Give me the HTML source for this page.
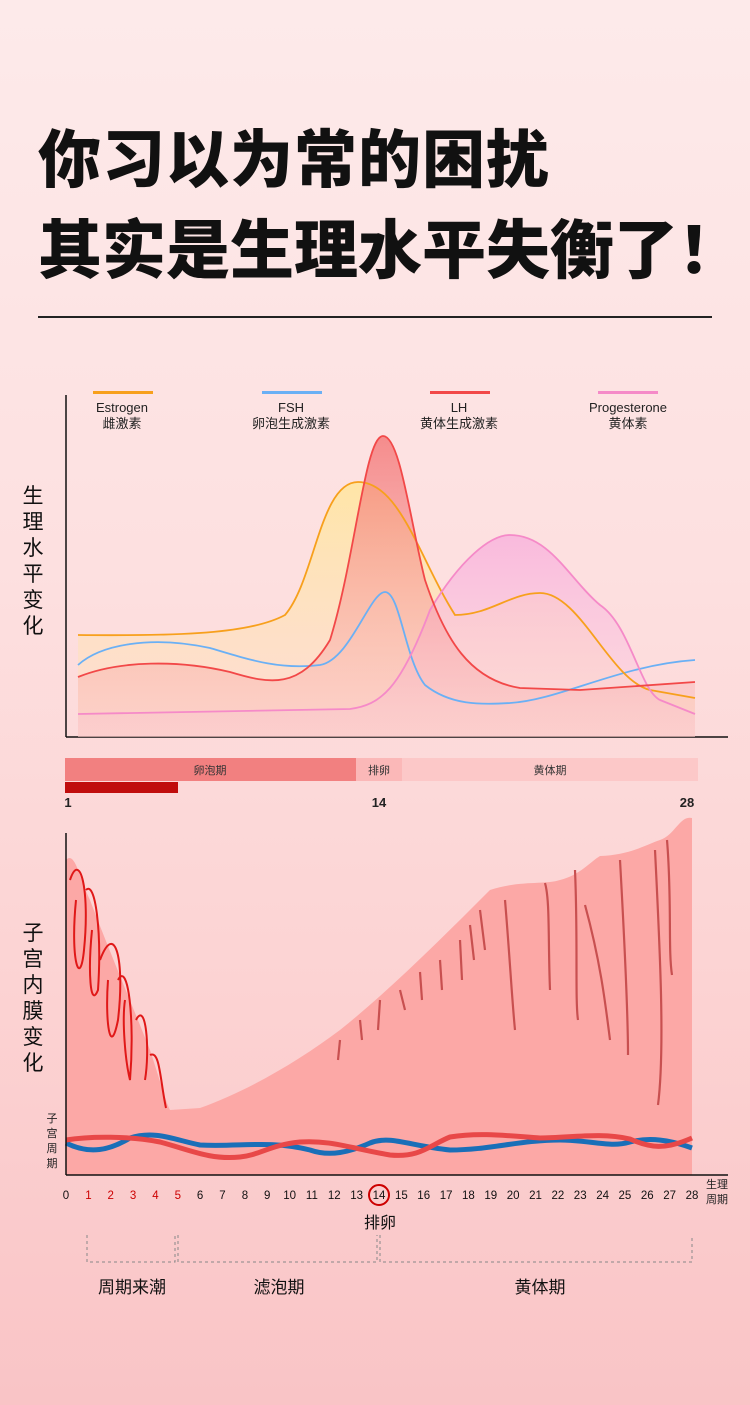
<!DOCTYPE html>
<html><head><meta charset="utf-8"><style>
html,body{margin:0;padding:0}
body{width:750px;height:1405px;overflow:hidden;background:linear-gradient(#fdeaea 0%,#fde0e0 40%,#fcd3d3 70%,#f9c4c6 100%);font-family:"Liberation Sans","Noto Sans CJK SC",sans-serif;position:relative}
.t{position:absolute;left:38px;font-weight:900;color:#111;white-space:nowrap;font-family:"Noto Sans CJK SC",sans-serif}
</style></head><body>
<div class="t" style="top:110px;font-size:63px;letter-spacing:1px">你习以为常的困扰</div>
<div class="t" style="top:200px;font-size:64px;letter-spacing:0px">其实是生理水平失衡了！</div>
<div style="position:absolute;left:38px;top:316px;width:674px;height:2px;background:#222"></div>
<svg width="750" height="1405" style="position:absolute;left:0;top:0" font-family="'Liberation Sans','Noto Sans CJK SC',sans-serif">
<defs>
<linearGradient id="ge" x1="0" y1="0" x2="0" y2="1"><stop offset="0" stop-color="#ffe6a0" stop-opacity=".9"/><stop offset="1" stop-color="#ffe0c0" stop-opacity=".3"/></linearGradient>
<linearGradient id="gp" x1="0" y1="0" x2="0" y2="1"><stop offset="0" stop-color="#f8b0dc" stop-opacity=".8"/><stop offset="1" stop-color="#fbd0e0" stop-opacity=".3"/></linearGradient>
<linearGradient id="gl" x1="0" y1="0" x2="0" y2="1"><stop offset="0" stop-color="#f26a6a" stop-opacity=".9"/><stop offset="1" stop-color="#f8b0b0" stop-opacity=".3"/></linearGradient>
</defs>
<g font-size="13" fill="#222" text-anchor="middle">
<rect x="93" y="391" width="60" height="3" fill="#f7a01c"/><text x="122" y="412">Estrogen</text><text x="122" y="428">雌激素</text>
<rect x="262" y="391" width="60" height="3" fill="#6ab0f5"/><text x="291" y="412">FSH</text><text x="291" y="428">卵泡生成激素</text>
<rect x="430" y="391" width="60" height="3" fill="#f24848"/><text x="459" y="412">LH</text><text x="459" y="428">黄体生成激素</text>
<rect x="598" y="391" width="60" height="3" fill="#f58ac8"/><text x="628" y="412">Progesterone</text><text x="628" y="428">黄体素</text>
</g>
<g font-size="21" fill="#111" text-anchor="middle">
<text x="33" y="503">生</text><text x="33" y="529">理</text><text x="33" y="555">水</text><text x="33" y="581">平</text><text x="33" y="607">变</text><text x="33" y="633">化</text>
<text x="33" y="940">子</text><text x="33" y="966">宫</text><text x="33" y="992">内</text><text x="33" y="1018">膜</text><text x="33" y="1044">变</text><text x="33" y="1070">化</text>
</g>
<line x1="66" y1="395" x2="66" y2="737" stroke="#111" stroke-width="1.5"/>
<line x1="66" y1="737" x2="728" y2="737" stroke="#111" stroke-width="1.5"/>
<path d="M78,635 C180,636 250,634 285,615 C315,580 320,482 358,482 C400,482 420,560 455,615 C490,615 510,593 540,593 C580,593 610,680 650,690 L695,698 L695,737 L78,737Z" fill="url(#ge)"/>
<path d="M78,714 L350,709 C380,705 400,690 430,610 C460,560 490,535 510,535 C550,535 570,580 600,605 C630,625 640,690 660,700 L695,714 L695,737 L78,737Z" fill="url(#gp)"/>
<path d="M78,677 C120,660 180,660 230,672 C270,684 300,690 330,640 C355,560 365,436 383,436 C400,436 410,520 425,580 C445,640 470,680 520,688 L580,690 L695,682 L695,737 L78,737Z" fill="url(#gl)" opacity=".8"/>
<path d="M78,665 C100,645 150,635 210,648 C250,660 280,670 320,665 C350,660 370,592 385,592 C400,592 405,660 425,685 C450,705 480,705 510,703 C560,700 620,665 695,660" fill="none" stroke="#6ab0f5" stroke-width="1.8"/>
<path d="M78,635 C180,636 250,634 285,615 C315,580 320,482 358,482 C400,482 420,560 455,615 C490,615 510,593 540,593 C580,593 610,680 650,690 L695,698" fill="none" stroke="#f7a01c" stroke-width="1.8"/>
<path d="M78,714 L350,709 C380,705 400,690 430,610 C460,560 490,535 510,535 C550,535 570,580 600,605 C630,625 640,690 660,700 L695,714" fill="none" stroke="#f58ac8" stroke-width="1.8"/>
<path d="M78,677 C120,660 180,660 230,672 C270,684 300,690 330,640 C355,560 365,436 383,436 C400,436 410,520 425,580 C445,640 470,680 520,688 L580,690 L695,682" fill="none" stroke="#f24848" stroke-width="1.8"/>
<rect x="65" y="758" width="291" height="23" fill="#f28080"/>
<rect x="356" y="758" width="46" height="23" fill="#fbb8b8"/>
<rect x="402" y="758" width="296" height="23" fill="#fcc8c8"/>
<rect x="65" y="782" width="113" height="11" fill="#c00d0d"/>
<g font-size="11" fill="#333" text-anchor="middle"><text x="210" y="774">卵泡期</text><text x="379" y="774">排卵</text><text x="550" y="774">黄体期</text></g>
<g font-size="13" font-weight="bold" fill="#222" text-anchor="middle"><text x="68" y="807">1</text><text x="379" y="807">14</text><text x="687" y="807">28</text></g>
<path d="M66,860 C75,850 80,880 90,900 C105,940 130,1000 150,1050 C160,1080 165,1100 170,1110 L200,1108 C250,1090 300,1060 340,1030 C390,990 440,940 490,890 C520,880 545,885 560,880 C580,875 590,862 600,856 C630,855 645,845 660,840 C675,835 680,815 692,818 L692,1175 L66,1175Z" fill="#fca8a6"/>
<g fill="none" stroke="#e01818" stroke-width="2">
<path d="M70,880 C80,850 90,890 84,950 C80,990 70,960 76,900"/>
<path d="M86,890 C95,880 102,930 98,990 C90,1010 88,970 92,930"/>
<path d="M100,960 C115,920 125,960 118,1020 C110,1060 105,1020 108,980"/>
<path d="M118,980 C128,960 135,1020 130,1080 C125,1060 122,1020 125,1000"/>
<path d="M136,1020 C146,1000 150,1050 145,1080 M150,1055 C160,1050 160,1080 166,1108"/>
</g>
<g fill="none" stroke="#c85050" stroke-width="2.2">
<path d="M505,900 C510,960 512,1000 515,1030"/><path d="M545,883 C550,900 548,940 550,990"/>
<path d="M575,870 C578,940 575,1000 578,1020"/><path d="M585,905 C600,960 605,1000 610,1040"/>
<path d="M620,860 C625,950 628,1020 628,1055"/><path d="M655,850 C660,950 665,1050 658,1105"/>
<path d="M667,840 C672,900 668,950 672,975"/><path d="M480,910 L485,950 M470,925 L474,960 M460,940 L462,980 M440,960 L442,990 M420,972 L422,1000 M400,990 L405,1010 M380,1000 L378,1030 M360,1020 L362,1040 M340,1040 L338,1060"/>
</g>
<path d="M66,1143 C90,1155 110,1150 130,1138 C155,1130 175,1140 200,1145 C240,1147 270,1140 310,1150 C330,1157 350,1152 370,1143 C390,1135 410,1146 450,1150 C490,1150 520,1140 560,1140 C590,1140 610,1148 630,1142 C650,1137 670,1140 692,1148" fill="none" stroke="#1a6fb8" stroke-width="5"/>
<path d="M66,1140 C90,1136 130,1136 160,1142 C190,1150 210,1160 240,1157 C260,1155 270,1145 300,1142 C330,1140 350,1148 390,1155 C420,1158 430,1145 450,1137 C480,1132 510,1136 540,1138 C570,1138 600,1132 630,1139 C650,1148 665,1150 692,1138" fill="none" stroke="#e84848" stroke-width="5"/>
<g font-size="11" fill="#222" text-anchor="middle"><text x="52" y="1122">子</text><text x="52" y="1137">宫</text><text x="52" y="1152">周</text><text x="52" y="1167">期</text><text x="717" y="1188">生理</text><text x="717" y="1203">周期</text></g>
<line x1="66" y1="833" x2="66" y2="1175" stroke="#111" stroke-width="1.5"/>
<line x1="66" y1="1175" x2="728" y2="1175" stroke="#111" stroke-width="1.5"/>
<g font-size="11.5" text-anchor="middle" fill="#111">
<text x="66" y="1199">0</text><text x="88.4" y="1199" fill="#c00">1</text><text x="110.7" y="1199" fill="#c00">2</text><text x="133.1" y="1199" fill="#c00">3</text><text x="155.4" y="1199" fill="#c00">4</text><text x="177.8" y="1199" fill="#c00">5</text><text x="200.1" y="1199">6</text><text x="222.5" y="1199">7</text><text x="244.9" y="1199">8</text><text x="267.2" y="1199">9</text><text x="289.6" y="1199">10</text><text x="311.9" y="1199">11</text><text x="334.3" y="1199">12</text><text x="356.6" y="1199">13</text><text x="379" y="1199">14</text><text x="401.4" y="1199">15</text><text x="423.7" y="1199">16</text><text x="446.1" y="1199">17</text><text x="468.4" y="1199">18</text><text x="490.8" y="1199">19</text><text x="513.1" y="1199">20</text><text x="535.5" y="1199">21</text><text x="557.9" y="1199">22</text><text x="580.2" y="1199">23</text><text x="602.6" y="1199">24</text><text x="624.9" y="1199">25</text><text x="647.3" y="1199">26</text><text x="669.6" y="1199">27</text><text x="692" y="1199">28</text>
</g>
<circle cx="379" cy="1195" r="10" fill="none" stroke="#c00" stroke-width="2"/>
<text x="380" y="1228" font-size="16" text-anchor="middle" fill="#111">排卵</text>
<g fill="none" stroke="#888" stroke-dasharray="3,3"><path d="M87,1235 V1262 H175 V1235 M178,1235 V1262 H377 V1235 M380,1235 V1262 H692 V1235"/></g>
<g font-size="17" fill="#111" text-anchor="middle"><text x="132" y="1293">周期来潮</text><text x="279" y="1293">滤泡期</text><text x="540" y="1293">黄体期</text></g>
</svg>
</body></html>
